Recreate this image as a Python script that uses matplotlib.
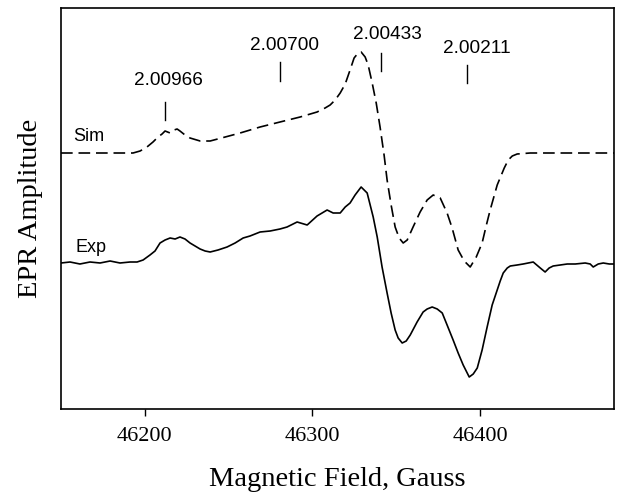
import matplotlib
matplotlib.use("Agg")
import matplotlib.pyplot as plt

# Simulated spectrum (dashed)
sim_field = [46150.0, 46193.0, 46197.2, 46201.3, 46204.9, 46207.9, 46210.3, 46212.1,
             46215.1, 46217.5, 46219.3, 46221.0, 46224.0, 46227.0, 46233.0, 46239.0,
             46248.0, 46256.9, 46268.8, 46280.7, 46292.7, 46302.8, 46307.6, 46310.6,
             46313.6, 46316.6, 46319.6, 46322.5, 46324.9, 46327.3, 46329.1, 46331.5,
             46333.3, 46335.7, 46338.1, 46340.4, 46342.8, 46344.6, 46347.0, 46349.4,
             46351.8, 46354.2, 46356.6, 46360.1, 46364.3, 46368.5, 46372.1, 46376.3,
             46380.4, 46383.4, 46387.0, 46390.6, 46394.2, 46397.8, 46401.3, 46403.7,
             46406.1, 46410.3, 46414.5, 46416.9, 46419.3, 46422.2, 46430.0, 46480.0]
sim_amp = [256, 256, 258, 262, 267, 272, 275, 278,
           276, 279, 280, 278, 274, 271, 268, 268,
           272, 276, 282, 287, 292, 297, 301, 304,
           309, 316, 325, 339, 351, 356, 357, 352,
           344, 326, 306, 282, 254, 229, 204, 182,
           171, 166, 169, 182, 197, 209, 214, 211,
           196, 181, 159, 148, 142, 152, 166, 183,
           199, 224, 241, 249, 253, 255, 256, 256]

# Experimental spectrum (solid)
exp_field = [46150.0, 46155.4, 46161.3, 46167.3, 46173.3, 46179.3, 46185.2, 46191.2,
             46195.4, 46199.0, 46203.1, 46206.1, 46209.1, 46212.1, 46215.1, 46218.1,
             46221.0, 46224.0, 46227.0, 46230.0, 46233.0, 46236.0, 46239.0, 46243.7,
             46249.1, 46253.9, 46258.7, 46262.8, 46268.8, 46274.8, 46280.7, 46284.9,
             46290.9, 46296.9, 46302.8, 46308.8, 46312.4, 46316.6, 46319.6, 46322.5,
             46325.5, 46329.1, 46332.7, 46336.3, 46338.7, 46341.6, 46344.6, 46347.0,
             46349.4, 46351.2, 46353.6, 46356.0, 46358.4, 46362.5, 46366.1, 46368.5,
             46371.5, 46374.5, 46377.5, 46380.4, 46384.0, 46387.0, 46390.0, 46393.6,
             46396.0, 46398.4, 46401.3, 46404.3, 46407.3, 46410.3, 46412.1, 46413.9,
             46416.3, 46418.1, 46422.2, 46425.8, 46431.8, 46436.0, 46438.9, 46441.3,
             46443.7, 46447.9, 46452.1, 46456.9, 46462.8, 46465.8, 46467.6, 46470.6,
             46473.6, 46477.2, 46480.0]
exp_amp = [146, 147, 145, 147, 146, 148, 146, 147,
           147, 149, 154, 158, 166, 169, 171, 170,
           172, 170, 166, 163, 160, 158, 157, 159,
           162, 166, 171, 173, 177, 178, 180, 182,
           187, 184, 193, 199, 196, 196, 202, 206,
           214, 222, 216, 192, 172, 142, 116, 96,
           79, 71, 66, 68, 74, 87, 97, 100,
           102, 100, 96, 84, 69, 56, 44, 32,
           35, 41, 59, 82, 104, 119, 128, 136,
           141, 143, 144, 145, 147, 141, 137, 141,
           143, 144, 145, 145, 146, 145, 142, 145,
           146, 145, 145]

# g-value markers
marker_labels = ["2.00966", "2.00700", "2.00433", "2.00211"]
marker_field = [46212.1, 46280.7, 46341.0, 46392.4]
marker_lo = [289, 328, 338, 326]
marker_hi = [307, 347, 356, 344]
label_field = [46214.2, 46283.1, 46344.6, 46398.4]
label_base = [324, 359, 370, 356]

fig = plt.figure(figsize=(6.24, 5.04), dpi=100)
ax = fig.add_axes([61/624, 1 - 409/504, (614-61)/624, (409-8)/504])

ax.plot(sim_field, sim_amp, color="black", lw=1.2, linestyle=(0, (7, 3.5)))
ax.plot(exp_field, exp_amp, color="black", lw=1.2)

for xm, lo, hi in zip(marker_field, marker_lo, marker_hi):
    ax.plot([xm, xm], [lo, hi], color="black", lw=1.0)
for lab, xl, yb in zip(marker_labels, label_field, label_base):
    ax.text(xl, yb, lab, ha="center", va="baseline", fontsize=13.7,
            family="Liberation Sans")

ax.text(46157.2, 268, "Sim", ha="left", va="baseline", fontsize=13, family="Liberation Sans")
ax.text(46158.4, 157, "Exp", ha="left", va="baseline", fontsize=13, family="Liberation Sans")

ax.set_xlim(46150, 46480)
ax.set_ylim(0, 401)
ax.set_xticks([46200, 46300, 46400])
ax.set_xticklabels(["46200", "46300", "46400"], family="Liberation Serif", fontsize=16)
ax.set_yticks([])
ax.tick_params(axis="x", direction="out", length=5, width=1.0, pad=8)
for s in ax.spines.values():
    s.set_linewidth(1.2)

ax.set_xlabel("Magnetic Field, Gauss", family="Liberation Serif", fontsize=20.5, labelpad=15)
ax.set_ylabel("EPR Amplitude", family="Liberation Serif", fontsize=20.5, labelpad=13)

fig.savefig("out.png", dpi=100)
